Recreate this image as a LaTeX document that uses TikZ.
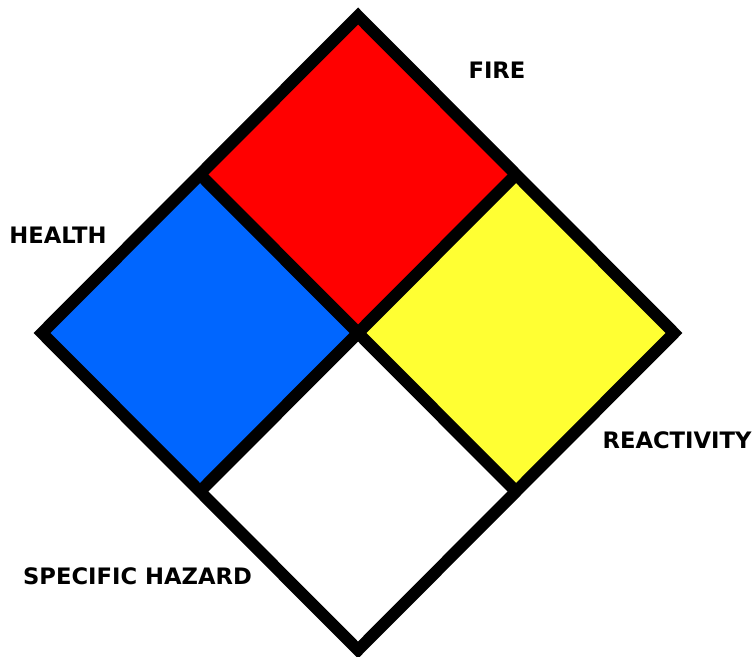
\documentclass[tikz,border=0pt]{standalone}
\usepackage{fontspec}
\setmainfont{DejaVu Sans}
\usetikzlibrary{positioning}
\definecolor{nfpared}{RGB}{255,0,0}
\definecolor{nfpablue}{RGB}{0,102,255}
\definecolor{nfpayellow}{RGB}{255,255,51}
\tikzset{
    quadrant/.style={fill=#1, draw=none},
    border/.style={draw=black, line width=9pt, line join=miter},
    caption/.style={font=\bfseries\fontsize{17}{19}\selectfont, inner sep=0pt}
}

\begin{document}
\begin{tikzpicture}[x=0.75pt, y=-0.75pt]
    \useasboundingbox (0,0) rectangle (752,656);
    % corners of the diamond
    \coordinate (top) at (358,16);
    \coordinate (lft) at (42,333);
    \coordinate (rgt) at (674,333);
    \coordinate (bot) at (358,650);
    \coordinate (mid) at (358,333);
    % edge midpoints
    \coordinate (tl) at (200,174.5);
    \coordinate (tr) at (516,174.5);
    \coordinate (bl) at (200,491.5);
    \coordinate (br) at (516,491.5);
    % quadrants
    \fill [quadrant=nfpared] (top) -- (tr) -- (mid) -- (tl) -- cycle;
    \fill [quadrant=nfpablue] (tl) -- (mid) -- (bl) -- (lft) -- cycle;
    \fill [quadrant=nfpayellow] (tr) -- (rgt) -- (br) -- (mid) -- cycle;
    \fill [quadrant=white] (mid) -- (br) -- (bot) -- (bl) -- cycle;
    % frame and dividers
    \draw [border] (tl) -- (br);
    \draw [border] (tr) -- (bl);
    \draw [border] (top) -- (rgt) -- (bot) -- (lft) -- cycle;
    % captions
    \node (fire) [caption] at (497,70) {FIRE};
    \node (health) [caption] at (58,235.5) {HEALTH};
    \node (react) [caption] at (677,440.5) {REACTIVITY};
    \node (special) [caption] at (137.5,576) {SPECIFIC HAZARD};
\end{tikzpicture}
\end{document}
